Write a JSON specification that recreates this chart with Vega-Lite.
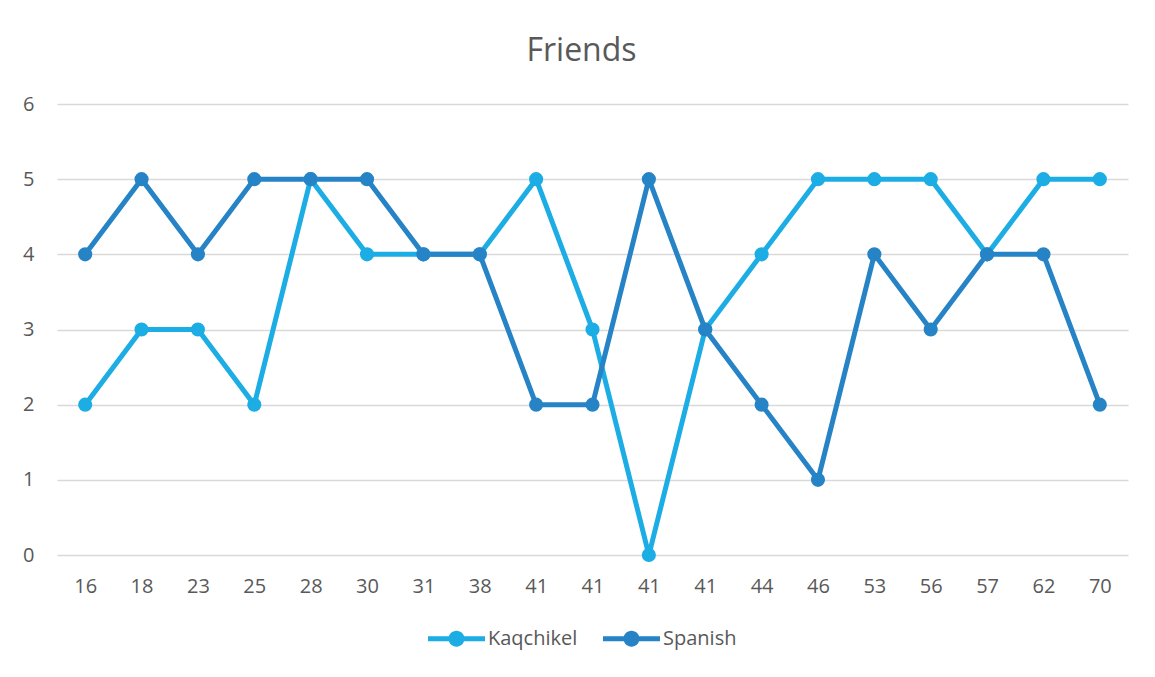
{
  "$schema": "https://vega.github.io/schema/vega-lite/v6.json",
  "width": 1071,
  "height": 451,
  "autosize": "none",
  "padding": {"left": 57, "top": 104, "right": 27, "bottom": 122},
  "background": "white",
  "title": {
    "text": "Friends",
    "font": "Open Sans",
    "fontSize": 32,
    "fontWeight": "normal",
    "color": "#595959",
    "anchor": "middle",
    "dx": -11,
    "offset": 26
  },
  "data": {
    "values": [
      {"i": 0, "series": "Kaqchikel", "friends": 2},
      {"i": 1, "series": "Kaqchikel", "friends": 3},
      {"i": 2, "series": "Kaqchikel", "friends": 3},
      {"i": 3, "series": "Kaqchikel", "friends": 2},
      {"i": 4, "series": "Kaqchikel", "friends": 5},
      {"i": 5, "series": "Kaqchikel", "friends": 4},
      {"i": 6, "series": "Kaqchikel", "friends": 4},
      {"i": 7, "series": "Kaqchikel", "friends": 4},
      {"i": 8, "series": "Kaqchikel", "friends": 5},
      {"i": 9, "series": "Kaqchikel", "friends": 3},
      {"i": 10, "series": "Kaqchikel", "friends": 0},
      {"i": 11, "series": "Kaqchikel", "friends": 3},
      {"i": 12, "series": "Kaqchikel", "friends": 4},
      {"i": 13, "series": "Kaqchikel", "friends": 5},
      {"i": 14, "series": "Kaqchikel", "friends": 5},
      {"i": 15, "series": "Kaqchikel", "friends": 5},
      {"i": 16, "series": "Kaqchikel", "friends": 4},
      {"i": 17, "series": "Kaqchikel", "friends": 5},
      {"i": 18, "series": "Kaqchikel", "friends": 5},
      {"i": 0, "series": "Spanish", "friends": 4},
      {"i": 1, "series": "Spanish", "friends": 5},
      {"i": 2, "series": "Spanish", "friends": 4},
      {"i": 3, "series": "Spanish", "friends": 5},
      {"i": 4, "series": "Spanish", "friends": 5},
      {"i": 5, "series": "Spanish", "friends": 5},
      {"i": 6, "series": "Spanish", "friends": 4},
      {"i": 7, "series": "Spanish", "friends": 4},
      {"i": 8, "series": "Spanish", "friends": 2},
      {"i": 9, "series": "Spanish", "friends": 2},
      {"i": 10, "series": "Spanish", "friends": 5},
      {"i": 11, "series": "Spanish", "friends": 3},
      {"i": 12, "series": "Spanish", "friends": 2},
      {"i": 13, "series": "Spanish", "friends": 1},
      {"i": 14, "series": "Spanish", "friends": 4},
      {"i": 15, "series": "Spanish", "friends": 3},
      {"i": 16, "series": "Spanish", "friends": 4},
      {"i": 17, "series": "Spanish", "friends": 4},
      {"i": 18, "series": "Spanish", "friends": 2}
    ]
  },
  "encoding": {
    "x": {
      "field": "i",
      "type": "ordinal",
      "scale": {"type": "point", "padding": 0.5},
      "axis": {
        "title": null,
        "labelAngle": 0,
        "labelExpr": "['16','18','23','25','28','30','31','38','41','41','41','41','44','46','53','56','57','62','70'][datum.value]",
        "domain": false,
        "ticks": false,
        "tickSize": 0,
        "grid": false,
        "labelPadding": 21,
        "labelFont": "Open Sans",
        "labelFontSize": 20,
        "labelColor": "#595959"
      }
    },
    "y": {
      "field": "friends",
      "type": "quantitative",
      "scale": {"domain": [0, 6], "nice": false},
      "axis": {
        "title": null,
        "values": [0, 1, 2, 3, 4, 5, 6],
        "domain": false,
        "ticks": false,
        "tickSize": 0,
        "grid": true,
        "gridColor": "#d9d9d9",
        "gridWidth": 1.5,
        "labelPadding": 23,
        "labelFont": "Open Sans",
        "labelFontSize": 20,
        "labelColor": "#595959"
      }
    },
    "color": {
      "field": "series",
      "type": "nominal",
      "scale": {"domain": ["Kaqchikel", "Spanish"], "range": ["#1CADE4", "#2683C6"]},
      "legend": {
        "title": null,
        "orient": "none",
        "direction": "horizontal",
        "legendX": 371,
        "legendY": 506,
        "padding": 0,
        "symbolType": "M-1,-0.09H1V0.09H-1Z M0,-0.28A0.28,0.28 0 1,1 0,0.28A0.28,0.28 0 1,1 0,-0.28Z",
        "symbolSize": 3249,
        "symbolStrokeWidth": 0,
        "labelOffset": 3,
        "columnPadding": 25,
        "labelFont": "Open Sans",
        "labelFontSize": 20,
        "labelColor": "#595959",
        "encode": {
          "symbols": {
            "update": {
              "fill": {"scale": "color", "field": "value"},
              "opacity": {"value": 1}
            }
          }
        }
      }
    }
  },
  "layer": [
    {"mark": {"type": "line", "strokeWidth": 5, "strokeJoin": "round", "strokeCap": "round"}},
    {"mark": {"type": "point", "filled": true, "opacity": 1, "size": 200}}
  ],
  "config": {
    "view": {"stroke": null},
    "font": "Open Sans"
  }
}
